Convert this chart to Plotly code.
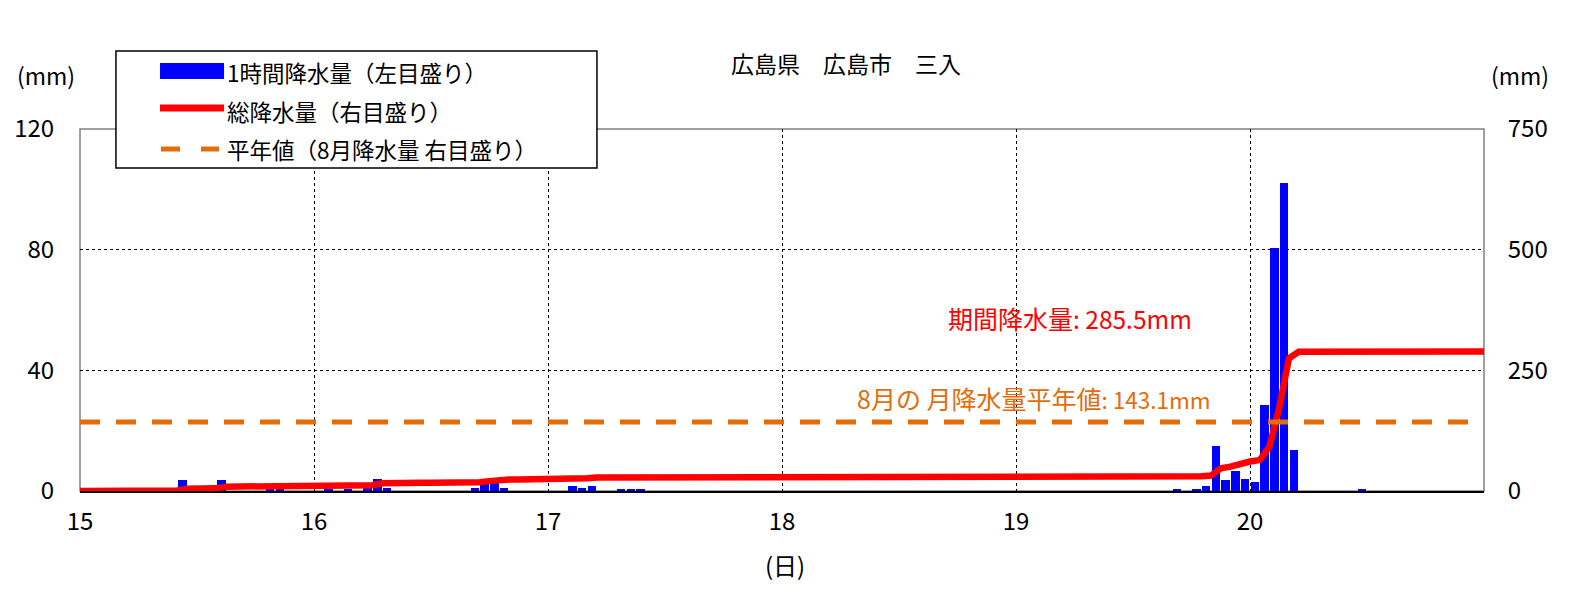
"""Hourly and total rainfall, Hiroshima (Miiri), Aug 15-20"""

import numpy as np
import plotly.graph_objects as go

# hour index counted from 15th 00:00 -> hourly rainfall (mm)
rain_hours = [9, 10, 13, 14, 19, 20,
              25, 27, 29, 30, 31,
              40, 41, 42, 43,
              50, 51, 52, 55, 56, 57,
              112, 114, 115, 116, 117, 118, 119, 120,
              121, 122, 123, 124, 131]
rain_mm = [1.0, 3.5, 1.0, 3.5, 0.5, 0.5,
           0.5, 0.5, 1.0, 4.0, 1.0,
           1.0, 2.5, 2.5, 1.0,
           1.5, 1.0, 1.5, 0.5, 0.5, 0.5,
           0.5, 0.5, 1.5, 15.0, 3.5, 6.5, 4.0, 3.0,
           28.5, 80.5, 102.0, 13.5, 0.5]

n_hours = 144
start_day = 15
normal_aug = 143.1
period_total = 285.5

day_ticks = [15, 16, 17, 18, 19, 20]
left_ticks = [0, 40, 80, 120]
right_ticks = [0, 250, 500, 750]

legend_names = ["1時間降水量（左目盛り）", "総降水量（右目盛り）", "平年値（8月降水量 右目盛り）"]

FONT = "Noto Sans CJK JP"
BLUE = "#0000FF"
RED = "#FF0000"
ORANGE = "#E46C0A"

hourly = np.zeros(n_hours)
hourly[rain_hours] = rain_mm
bar_x = start_day + (np.arange(n_hours) + 0.5) / 24
line_x = start_day + np.arange(n_hours + 1) / 24
line_y = np.concatenate([[0], np.cumsum(hourly)])

fig = go.Figure()

fig.add_trace(go.Bar(
    x=bar_x, y=hourly,
    width=0.88 / 24,
    marker=dict(color=BLUE, line=dict(width=0)),
    name=legend_names[0],
))

fig.add_trace(go.Scatter(
    x=line_x, y=line_y,
    mode="lines",
    line=dict(color=RED, width=6.5),
    name=legend_names[1],
    yaxis="y2",
))

fig.add_trace(go.Scatter(
    x=[start_day, start_day + n_hours / 24], y=[normal_aug, normal_aug],
    mode="lines",
    line=dict(color=ORANGE, width=5, dash="20px,16px"),
    name=legend_names[2],
    yaxis="y2",
))

# grey frame round the plot area
fig.add_shape(type="rect", xref="x domain", yref="y domain",
              x0=0, x1=1, y0=0, y1=1,
              line=dict(color="#808080", width=1.5), layer="below")

# hand-made legend box (wide swatches like the original)
fig.add_shape(type="rect", xref="paper", yref="paper",
              x0=0.0256, x1=0.3682, y0=0.8923, y1=1.2155,
              line=dict(color="black", width=1.5), fillcolor="white", layer="above")
fig.add_shape(type="rect", xref="paper", yref="paper",
              x0=0.0570, x1=0.1026, y0=1.1381, y1=1.1823,
              line=dict(width=0), fillcolor=BLUE, layer="above")
fig.add_shape(type="line", xref="paper", yref="paper",
              x0=0.0570, x1=0.1026, y0=1.058, y1=1.058,
              line=dict(color=RED, width=7), layer="above")
fig.add_shape(type="line", xref="paper", yref="paper",
              x0=0.0577, x1=0.0990, y0=0.9448, y1=0.9448,
              line=dict(color=ORANGE, width=5, dash="19px,21px"), layer="above")

legend_y = [1.1575, 1.0497, 0.9448]
annotations = [
    dict(text=name, x=0.1030, y=yy, xref="paper", yref="paper",
         xanchor="left", yanchor="middle", showarrow=False, font=dict(size=22.5))
    for name, yy in zip(legend_names, legend_y)
]

annotations += [
    dict(text="広島県　広島市　三入", x=0.5456, y=1.1823, xref="paper", yref="paper",
         xanchor="center", yanchor="middle", showarrow=False, font=dict(size=23)),
    dict(text="(mm)", x=-0.0242, y=1.149, xref="paper", yref="paper",
         xanchor="center", yanchor="middle", showarrow=False, font=dict(size=23)),
    dict(text="(mm)", x=1.0256, y=1.149, xref="paper", yref="paper",
         xanchor="center", yanchor="middle", showarrow=False, font=dict(size=23)),
    dict(text="(日)", x=0.502, y=-0.2044, xref="paper", yref="paper",
         xanchor="center", yanchor="middle", showarrow=False, font=dict(size=24)),
    dict(text=f"期間降水量<span style='font-size:24.5px'>: {period_total}mm</span>",
         x=18.70, y=358, xref="x", yref="y2", xanchor="left", yanchor="middle",
         showarrow=False, font=dict(size=25, color=RED)),
    dict(text=f"8月の 月降水量平年値<span style='font-size:22.5px'>: {normal_aug}mm</span>",
         x=18.31, y=193, xref="x", yref="y2", xanchor="left", yanchor="middle",
         showarrow=False, font=dict(size=25, color=ORANGE)),
]

fig.update_layout(
    width=1562, height=586,
    margin=dict(l=72, r=86, t=121, b=103),
    plot_bgcolor="white", paper_bgcolor="white",
    font=dict(family=FONT, size=24, color="black"),
    bargap=0,
    showlegend=False,
    annotations=annotations,
    xaxis=dict(
        range=[15, 21], tickvals=day_ticks, ticktext=[str(d) for d in day_ticks],
        showgrid=True, gridcolor="black", gridwidth=1, griddash="3px,3px",
        showline=True, linecolor="black", linewidth=2, automargin=False,
        ticks="outside", ticklen=8, tickcolor="rgba(0,0,0,0)", zeroline=False,
    ),
    yaxis=dict(
        range=[0, 120], tickvals=left_ticks, automargin=False,
        showgrid=True, gridcolor="black", gridwidth=1, griddash="3px,3px",
        showline=False, zeroline=False,
        ticks="outside", ticklen=20, tickcolor="rgba(0,0,0,0)",
    ),
    yaxis2=dict(
        range=[0, 750], tickvals=right_ticks, overlaying="y", side="right",
        showgrid=False, showline=False, zeroline=False, automargin=False,
        ticks="outside", ticklen=18, tickcolor="rgba(0,0,0,0)",
    ),
)

fig.write_html("out.html")
